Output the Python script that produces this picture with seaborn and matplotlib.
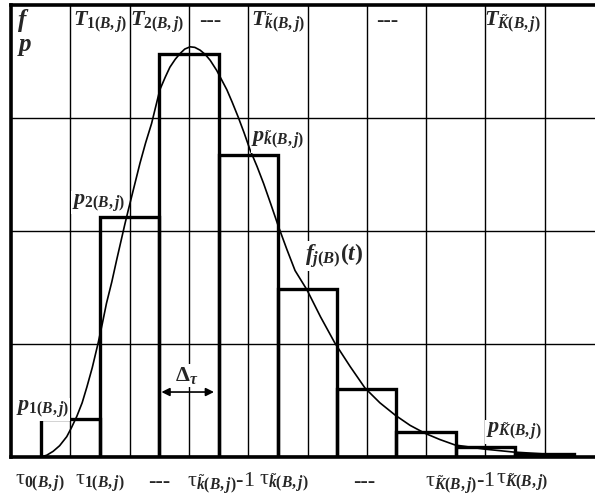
import numpy as np
import pandas as pd
import matplotlib
matplotlib.use("Agg")
import matplotlib.pyplot as plt
import seaborn as sns

# histogram bars (interval centres, heights)
bar_t = [1, 2, 3, 4, 5, 6, 7, 8, 9]
bar_p = [0.34, 2.12, 3.57, 2.67, 1.49, 0.60, 0.22, 0.09, 0.03]

# density curve f_j(B)(t)
curve_t = [0.49, 0.60, 0.71, 0.82, 0.94, 1.02, 1.11, 1.20, 1.28, 1.37, 1.47, 1.54,
           1.61, 1.70, 1.78, 1.85, 1.92, 1.98, 2.08, 2.175, 2.27, 2.37, 2.44, 2.51,
           2.60, 2.68, 2.77, 2.85, 2.93, 3.02, 3.10, 3.19, 3.28, 3.36, 3.47, 3.55,
           3.64, 3.73, 3.83, 3.93, 4.03, 4.15, 4.26, 4.38, 4.51, 4.65, 4.79, 4.99,
           5.22, 5.46, 5.72, 5.97, 6.22, 6.48, 6.73, 6.98, 7.23, 7.49, 7.98, 8.47,
           8.99, 9.50]
curve_f = [0.00, 0.015, 0.05, 0.10, 0.18, 0.26, 0.36, 0.48, 0.62, 0.79, 1.01, 1.18,
           1.36, 1.55, 1.74, 1.90, 2.06, 2.19, 2.40, 2.60, 2.78, 2.95, 3.10, 3.25,
           3.36, 3.45, 3.52, 3.57, 3.61, 3.63, 3.625, 3.60, 3.56, 3.51, 3.42, 3.34,
           3.25, 3.14, 3.01, 2.87, 2.72, 2.57, 2.42, 2.24, 2.04, 1.84, 1.65, 1.48,
           1.24, 1.01, 0.80, 0.61, 0.48, 0.37, 0.28, 0.21, 0.155, 0.106, 0.07, 0.044,
           0.027, 0.01]

top_labels = [r"$T_{1(B,j)}$", r"$T_{2(B,j)}$", "---", r"$T_{\tilde{k}(B,j)}$", "---",
              r"$T_{\tilde{K}(B,j)}$"]
top_pos = [1.5, 2.47, 3.36, 4.5, 6.34, 8.45]

bottom_labels = [r"τ$_{0(B,j)}$", r"τ$_{1(B,j)}$", "---", r"τ$_{\tilde{k}(B,j)}$-1",
                 r"τ$_{\tilde{k}(B,j)}$", "---", r"τ$_{\tilde{K}(B,j)}$-1",
                 r"τ$_{\tilde{K}(B,j)}$"]
bottom_pos = [0.49, 1.5, 2.5, 3.54, 4.6, 5.95, 7.57, 8.62]

sns.set_style("white")
plt.rcParams['font.family'] = ['Liberation Serif', 'DejaVu Serif']
plt.rcParams['mathtext.fontset'] = 'custom'
plt.rcParams['mathtext.rm'] = 'Liberation Serif:bold'
plt.rcParams['mathtext.it'] = 'Liberation Serif:italic:bold'
plt.rcParams['mathtext.sf'] = 'Liberation Serif'

fig = plt.figure(figsize=(5.95, 5.01), dpi=100)
ax = fig.add_axes([11 / 595, 44 / 501, 584 / 595, 452 / 501])

bars = pd.DataFrame({"t": bar_t, "p": bar_p})
sns.barplot(data=bars, x="t", y="p", native_scale=True, width=1.0, fill=False,
            color="black", linewidth=2.4, errorbar=None, ax=ax, zorder=3)

curve = pd.DataFrame({"t": curve_t, "f": curve_f})
sns.lineplot(data=curve, x="t", y="f", color="black", linewidth=1.2, ax=ax, zorder=4)

ax.set_xlim(0, 584 / 59.3)
ax.set_ylim(0, 4)
ax.set_xticks(np.arange(1, 10))
ax.set_yticks([1, 2, 3])
ax.set_xticklabels([])
ax.set_yticklabels([])
ax.tick_params(length=0)
ax.grid(True, color="black", linewidth=1.0)
ax.set_axisbelow(True)
ax.set_xlabel("")
ax.set_ylabel("")

for side in ["left", "bottom", "top"]:
    ax.spines[side].set_visible(True)
    ax.spines[side].set_color("black")
    ax.spines[side].set_linewidth(2.6)
ax.spines["right"].set_visible(False)

box = dict(facecolor="white", edgecolor="none", pad=0.5)

ax.text(0.1, 3.86, r"$f$", fontsize=18, ha="left", va="center")
ax.text(0.1, 3.63, r"$p$", fontsize=18, ha="left", va="center")

for lab, x in zip(top_labels, top_pos):
    ax.text(x, 3.85, lab, fontsize=16, ha="center", va="center")

ax.text(0.53, 0.42, r"$p_{1(B,j)}$", fontsize=16, ha="center", va="center", bbox=box, zorder=5)
ax.text(1.48, 2.25, r"$p_{2(B,j)}$", fontsize=16, ha="center", va="center", bbox=box, zorder=5)
ax.text(4.5, 2.8, r"$p_{\tilde{k}(B,j)}$", fontsize=16, ha="center", va="center", bbox=box, zorder=5)
ax.text(5.45, 1.78, r"$f_{j(B)}(t)$", fontsize=17, ha="center", va="center", bbox=box, zorder=5)
ax.text(8.48, 0.22, r"$p_{\tilde{K}(B,j)}$", fontsize=16, ha="center", va="center", bbox=box, zorder=5)

ax.text(2.97, 0.72, r"$\mathrm{\Delta}_{\tau}$", fontsize=16, ha="center", va="center", bbox=box, zorder=5)
ax.annotate("", xy=(2.49, 0.575), xytext=(3.47, 0.575),
            arrowprops=dict(arrowstyle="<|-|>", color="black", lw=1.2, mutation_scale=12),
            zorder=5)

for lab, x in zip(bottom_labels, bottom_pos):
    ax.text(x, -0.23, lab, fontsize=16, ha="center", va="center", clip_on=False)

fig.savefig("out.png", dpi=100)
